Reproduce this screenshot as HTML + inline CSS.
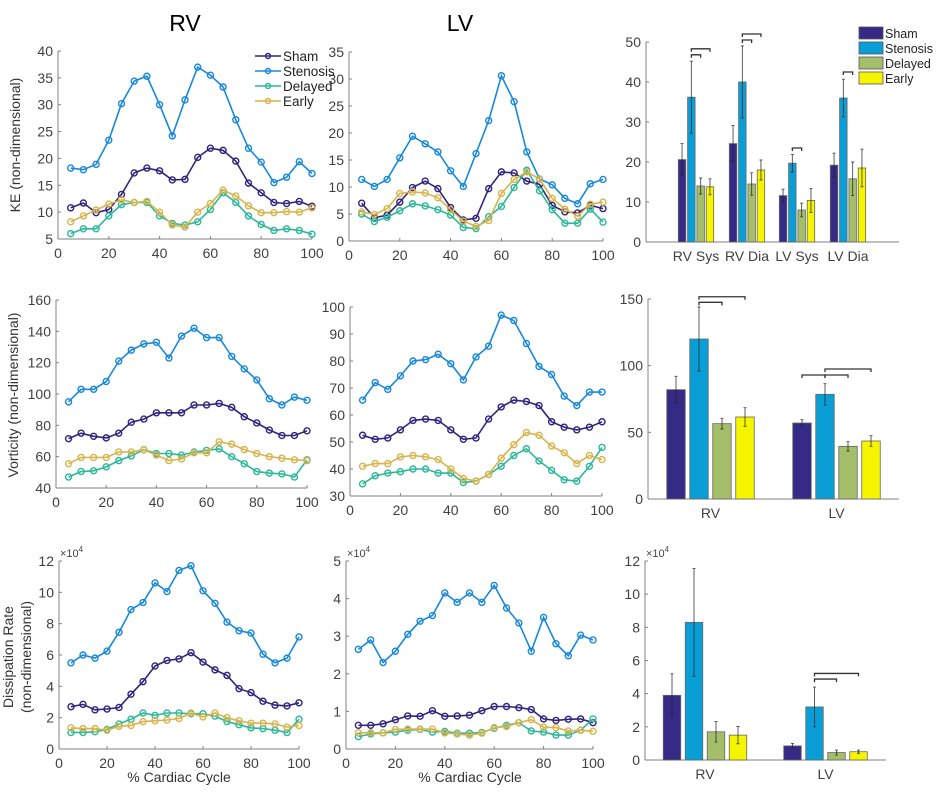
<!DOCTYPE html>
<html><head><meta charset="utf-8"><style>
body{margin:0;background:#fff;}
svg{display:block;font-family:"Liberation Sans",sans-serif;}
</style></head><body>
<svg id="fig" width="936" height="803" viewBox="0 0 936 803" xmlns="http://www.w3.org/2000/svg">
<text x="185" y="31" font-size="23" text-anchor="middle" fill="#000">RV</text>
<text x="460" y="31" font-size="23" text-anchor="middle" fill="#000">LV</text>
<text transform="translate(20,145) rotate(-90)" font-size="14" text-anchor="middle" fill="#333">KE (non-dimensional)</text>
<text transform="translate(18,395) rotate(-90)" font-size="14" text-anchor="middle" fill="#333">Vorticity (non-dimensional)</text>
<text transform="translate(13,657) rotate(-90)" font-size="14" text-anchor="middle" fill="#333">Dissipation Rate</text>
<text transform="translate(31,657) rotate(-90)" font-size="14" text-anchor="middle" fill="#333">(non-dimensional)</text>
<text x="179" y="782" font-size="14" text-anchor="middle" fill="#333">% Cardiac Cycle</text>
<text x="470" y="782" font-size="14" text-anchor="middle" fill="#333">% Cardiac Cycle</text>
</svg>
<script>
const xPct=[5,10,15,20,25,30,35,40,45,50,55,60,65,70,75,80,85,90,95,100];
const groups=["Sham","Stenosis","Delayed","Early"];
// KE RV
const keRvSham=[10.8,11.7,9.9,10.5,13.3,17.3,18.2,17.7,16,16.1,20.2,21.9,21.5,19.5,15.4,13.6,11.8,11.6,12,11.1];
const keRvSten=[18.2,17.9,18.9,23.4,30.2,34.4,35.3,30,24.2,30.9,37,35.5,33.3,27.2,21.9,19.3,15.5,16.5,19.4,17.2];
const keRvDel=[6,6.9,6.9,9.3,11.4,11.8,11.8,9.3,7.9,7.6,8.2,10.5,13.6,11.8,9.3,7.7,6.6,6.9,6.6,5.9];
const keRvEar=[8.2,9.3,10.4,11.5,12.3,11.8,12,10,7.6,7.2,10,11.6,14.1,13,11.2,9.9,9.9,10.1,10,10.8];
// KE LV
const keLvSham=[7,4.3,4.8,7.2,9.9,11.1,9.7,6.2,3.9,4.2,9.7,12.8,12.6,11.1,10.5,6.6,5.4,5.2,6.6,6];
const keLvSten=[11.4,10.1,11.4,15.4,19.4,18,16.5,13,10.1,16.2,22.3,30.6,25.8,16.5,11.5,10.4,7.9,6.9,10.6,11.4];
const keLvDel=[5,3.6,4.4,5.6,6.9,6.5,5.8,4.8,2.5,2.3,4.5,6.4,9.9,13.1,9.3,5.8,3.3,3.3,5.9,3.5];
const keLvEar=[5.4,4.9,6,8.8,9.1,8.9,8,5.8,3.7,2.7,3.8,8.8,11.4,12.8,11.5,7.9,5.9,4.6,6.8,7.2];
// Vorticity RV
const voRvSham=[71.5,75,73,72,75,82,84,88,88,88,93,93,94,91.5,85.5,81.5,77,73.5,73.5,76.5];
const voRvSten=[95,103,103,108,121,128,132,133,123,137,142,136,136,124,116,109,97,93,98,96];
const voRvDel=[47,50.5,51,53.5,57.5,60.5,64.5,62,62,61,63,64,65,60,55.5,50.5,49.5,49,47,58];
const voRvEar=[55.5,59.5,59.5,59.5,63,63,64.5,61,57.5,58.5,62.5,62.5,69.5,68,64.5,62,60,59,58,57.5];
// Vorticity LV
const voLvSham=[52.5,51,51.5,54.5,58,58.5,58,54.5,51,51.5,58.5,63,65.5,65,63.5,57.5,55.5,54.5,55.5,57.5];
const voLvSten=[65.5,72,69.5,74.5,80,80.5,82.5,79,73,81.5,85.5,97,95,86.5,78,75,67,63.5,68.5,68.5];
const voLvDel=[34.5,37.5,38.5,39,40,40,38.5,38.5,35,35.5,38,41,45,47.5,43,39.5,36,35.5,41,48];
const voLvEar=[41,42,42,44.5,45,44.5,43.5,40,36.5,35.5,38,44,49,53.5,52.5,48.5,46,42,45,43.5];
// Dissipation RV (x1e4)
const diRvSham=[2.7,2.85,2.5,2.55,2.65,3.5,4.3,5.3,5.65,5.75,6.15,5.55,5.05,4.7,3.85,3.6,3.05,2.8,2.75,2.95];
const diRvSten=[5.5,6,5.8,6.25,7.45,8.9,9.35,10.6,10.05,11.4,11.7,10.1,9.3,8.1,7.55,7.4,6.05,5.5,5.8,7.15];
const diRvDel=[1.05,1.05,1.1,1.25,1.6,1.9,2.3,2.15,2.3,2.3,2.25,2.25,2.1,1.75,1.55,1.35,1.3,1.2,1.05,1.9];
const diRvEar=[1.35,1.3,1.3,1.2,1.45,1.5,1.75,1.8,1.85,1.95,2.3,2.05,2.3,2,1.8,1.65,1.65,1.6,1.4,1.5];
// Dissipation LV (x1e4)
const diLvSham=[0.63,0.63,0.67,0.78,0.88,0.87,1.02,0.87,0.88,0.9,1.02,1.13,1.13,1.1,1.05,0.8,0.76,0.79,0.8,0.7];
const diLvSten=[2.65,2.9,2.3,2.6,3.05,3.4,3.55,4.15,3.9,4.15,3.9,4.35,3.75,3.35,2.6,3.5,2.8,2.48,3.03,2.9];
const diLvDel=[0.33,0.4,0.43,0.45,0.5,0.52,0.45,0.47,0.42,0.42,0.44,0.55,0.63,0.7,0.48,0.45,0.37,0.37,0.5,0.8];
const diLvEar=[0.43,0.43,0.43,0.52,0.53,0.53,0.53,0.43,0.4,0.37,0.42,0.57,0.6,0.7,0.78,0.58,0.57,0.48,0.5,0.47];
// Bar charts
const keCats=["RV Sys","RV Dia","LV Sys","LV Dia"];
const keMean=[[20.6,36.2,14,13.8],[24.6,40,14.5,18],[11.6,19.7,8,10.4],[19.2,36,15.8,18.5]];
const keErr=[[4,9,2,2],[4.5,9,2.8,2.5],[1.6,2.2,1.7,3],[3,4.7,4.2,4.7]];
const keSig=[[0,1,2,46.8],[0,1,3,48.3],[1,1,2,50.5],[1,1,3,52],[2,1,2,23.5],[3,1,2,42.5]];
const voCats=["RV","LV"];
const voMean=[[82,120,56.5,61.5],[57,78.5,39.5,43.5]];
const voErr=[[10,24,4,7],[2.5,8,3.5,4]];
const voSig=[[0,1,2,147.5],[0,1,3,151.7],[1,0,1,93],[1,1,2,93],[1,1,3,97.5]];
const diCats=["RV","LV"];
const diMean=[[3.9,8.3,1.7,1.5],[0.85,3.2,0.45,0.5]];
const diErr=[[1.3,3.25,0.62,0.52],[0.15,1.2,0.15,0.1]];
const diSig=[[1,1,2,4.88],[1,1,3,5.22]];

const lineCol=["#32237f","#1888dc","#2cb89a","#d8b44c"];
const barCol=["#352a86","#0a9ed6","#a4be6a","#f6f500"];
const NS="http://www.w3.org/2000/svg";
const svg=document.getElementById("fig");
function mk(tag,attrs,parent){const e=document.createElementNS(NS,tag);for(const k in attrs)e.setAttribute(k,attrs[k]);(parent||svg).appendChild(e);return e;}

function axes(g,px0,px1,py0,py1,ymin,ymax,ystep,sci,name){
  const ys=v=>py1-(v-ymin)/(ymax-ymin)*(py1-py0);
  mk("line",{x1:px0,y1:py0,x2:px0,y2:py1,stroke:"#808080","stroke-width":1},g);
  mk("line",{x1:px0,y1:py1,x2:px1,y2:py1,stroke:"#808080","stroke-width":1},g);
  for(let v=ymin;v<=ymax+1e-9;v+=ystep){
    const y=ys(v);
    mk("line",{x1:px0,y1:y,x2:px0+3,y2:y,stroke:"#808080"},g);
    const t=mk("text",{x:px0-5,y:y+5,"font-size":14,"text-anchor":"end",fill:"#404040"},g);
    t.textContent=String(Math.round(v*100)/100);
    
    
  }
  if(sci){
    const t=mk("text",{x:px0+1,y:py0-4,"font-size":11,fill:"#444"},g);
    t.innerHTML='×10<tspan dy="-5" font-size="8">4</tspan>';
    
    
  }
  return ys;
}

function linePanel(name,px0,px1,py0,py1,ymin,ymax,ystep,series,sci){
  const g=mk("g",{});
  
  
  const ys=axes(g,px0,px1,py0,py1,ymin,ymax,ystep,sci,name);
  const xs=v=>px0+v/100*(px1-px0);
  for(let v=0;v<=100;v+=20){
    mk("line",{x1:xs(v),y1:py1,x2:xs(v),y2:py1-3,stroke:"#808080"},g);
    const t=mk("text",{x:xs(v),y:py1+19,"font-size":14,"text-anchor":"middle",fill:"#404040"},g);
    t.textContent=v;
    
    
  }
  series.forEach((s,i)=>{
    const pts=s.map((v,j)=>xs(xPct[j]).toFixed(1)+","+ys(v).toFixed(1)).join(" ");
    const pl=mk("polyline",{points:pts,fill:"none",stroke:lineCol[i],"stroke-width":1.6},g);
    
    
    s.forEach((v,j)=>{
      const c=mk("circle",{cx:xs(xPct[j]),cy:ys(v),r:3,fill:"none",stroke:lineCol[i],"stroke-width":1.4},g);
      
      
    });
  });
}

function barPanel(name,px0,px1,py0,py1,ymax,ystep,cats,centers,bw,step,mean,err,sig,sci){
  const g=mk("g",{});
  
  
  const ys=axes(g,px0,px1,py0,py1,0,ymax,ystep,sci,name);
  const bx=(c,k)=>centers[c]+(k-1.5)*step;
  cats.forEach((cat,c)=>{
    const t=mk("text",{x:centers[c],y:py1+19,"font-size":14,"text-anchor":"middle",fill:"#404040"},g);
    t.textContent=cat;
    
    
    mean[c].forEach((v,k)=>{
      const r=mk("rect",{x:bx(c,k)-bw/2,y:ys(v),width:bw,height:py1-ys(v),fill:barCol[k],stroke:"#666","stroke-width":0.8},g);
      
      
      const e=err[c][k],x=bx(c,k);
      const eb=mk("path",{d:`M${x},${ys(v-e)}V${ys(v+e)}M${x-1.5},${ys(v-e)}h3M${x-1.5},${ys(v+e)}h3`,stroke:"#222","stroke-width":0.9,fill:"none",opacity:0.8},g);
      
      
    });
  });
  sig.forEach(s=>{
    const xa=bx(s[0],s[1]),xb=bx(s[0],s[2]),y=ys(s[3]);
    const p=mk("path",{d:`M${xa},${y+3}V${y}H${xb}V${y+3}`,stroke:"#333","stroke-width":1.3,fill:"none"},g);
    
    
  });
}

linePanel("ke-rv-chart",58,312,51,239,5,40,5,[keRvSham,keRvSten,keRvDel,keRvEar]);
linePanel("ke-lv-chart",349,603,52,241,0,35,5,[keLvSham,keLvSten,keLvDel,keLvEar]);
linePanel("vorticity-rv-chart",56,307,300,488,40,160,20,[voRvSham,voRvSten,voRvDel,voRvEar]);
linePanel("vorticity-lv-chart",350,602,307,496,30,100,10,[voLvSham,voLvSten,voLvDel,voLvEar]);
linePanel("dissipation-rv-chart",59,299,561,749,0,12,2,[diRvSham,diRvSten,diRvDel,diRvEar],true);
linePanel("dissipation-lv-chart",346,593,561,749,0,5,1,[diLvSham,diLvSten,diLvDel,diLvEar],true);
barPanel("ke-bar-chart",646,899,42,242,50,10,keCats,[696,747,797,848],7.5,9.3,keMean,keErr,keSig);
barPanel("vorticity-bar-chart",648,899,299,499,150,50,voCats,[710.5,836.5],18.5,23,voMean,voErr,voSig);
barPanel("dissipation-bar-chart",645,886,561,760,12,2,diCats,[705,825.5],17.5,22,diMean,diErr,diSig,true);

// line legend
const lg=mk("g",{});


groups.forEach((n,i)=>{
  const y=56+i*15;
  const e=mk("g",{},lg);
  
  
  mk("line",{x1:255,y1:y,x2:281,y2:y,stroke:lineCol[i],"stroke-width":1.6},e);
  mk("circle",{cx:268,cy:y,r:2.5,fill:"none",stroke:lineCol[i],"stroke-width":1.4},e);
  const t=mk("text",{x:283,y:y+5,"font-size":13.5,fill:"#222"},e);
  t.textContent=n;
});
// bar legend
const bl=mk("g",{});


groups.forEach((n,i)=>{
  const y=27+i*15;
  const e=mk("g",{},bl);
  
  
  mk("rect",{x:859,y:y,width:24,height:12,fill:barCol[i],stroke:"#555","stroke-width":0.8},e);
  const t=mk("text",{x:885,y:y+11,"font-size":12.5,fill:"#222"},e);
  t.textContent=n;
});
</script>
</body></html>
